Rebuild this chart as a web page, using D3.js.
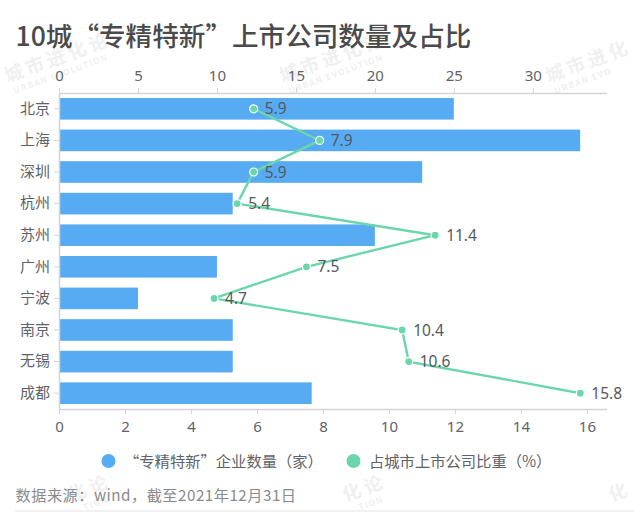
<!DOCTYPE html>
<html>
<head>
<meta charset="utf-8">
<script src="https://cdn.jsdelivr.net/npm/d3@7"></script>
<style>
html, body { margin:0; padding:0; background:#fff; }
text { font-family:"Noto Sans CJK SC","Noto Sans",sans-serif; }
</style>
</head>
<body>
<div id="my_viz"></div>
<script>
const cities = ["北京","上海","深圳","杭州","苏州","广州","宁波","南京","无锡","成都"]
const company_counts = [25,33,23,11,20,10,5,11,11,16]
const share_values = [5.9,7.9,5.9,5.4,11.4,7.5,4.7,10.4,10.6,15.8]
const top_ticks = [0,5,10,15,20,25,30]
const bottom_ticks = [0,2,4,6,8,10,12,14,16]
const legend_labels = ["“专精特新”企业数量（家）","占城市上市公司比重（%）"]

// only the part of each watermark that shows inside the picture
const watermarks = [
	{cx:55, cy:58, cn:"城市进化论", cn_from:0, en:"URBAN EVOLUTION", en_from:0},
	{cx:330, cy:58, cn:"城市进化论", cn_from:0, en:"URBAN EVOLUTION", en_from:0},
	{cx:596, cy:58, cn:"城市进化", cn_from:0, en:"URBAN EVO", en_from:0},
	{cx:55, cy:500, cn:"化论", cn_from:3, en:"TION", en_from:11},
	{cx:330, cy:500, cn:"化论", cn_from:3, en:"TION", en_from:11},
	{cx:596, cy:500, cn:"化", cn_from:3, en:"", en_from:11}
]

const width = 634
const height = 512
const margin = {top:93, right:27.3, bottom:103, left:59}
const bounded = {
	width : width - margin.left - margin.right,
	height : height - margin.top - margin.bottom
}
const text_color = "#5f6368"
const axis_color = "#d4d4d4"
const bar_color = "#56abf2"
const line_color = "#6bd6ab"
const mark_color = "#f0f0f0"

var svg = d3.select("#my_viz")
.append("svg")
.attr("width", width)
.attr("height", height)
.style("display", "block")

// Watermarks sit behind everything
var marks = svg.selectAll(".watermark")
.data(watermarks)
.enter()
.append("g")
.attr("class", "watermark")
.attr("transform", d => "translate(" + d.cx + "," + d.cy + ") rotate(-20)")
marks.append("text")
.attr("x", d => -53 + d.cn_from * 22.3)
.attr("y", 7)
.attr("fill", mark_color)
.style("font-size", "18.5px")
.style("font-weight", 700)
.style("letter-spacing", "3.8px")
.text(d => d.cn)
marks.append("text")
.attr("x", d => -50 + d.en_from * 6.75)
.attr("y", 20)
.attr("fill", mark_color)
.style("font-size", "8.5px")
.style("font-weight", 700)
.style("letter-spacing", "1.3px")
.text(d => d.en)

// Title
svg.append("text")
.attr("x", 15.5)
.attr("y", 46)
.attr("fill", "#4a4a4a")
.style("font-size", "26.6px")
.style("font-weight", 500)
.text("10城“专精特新”上市公司数量及占比")

var group = svg.append("g")
.attr("transform", "translate(" + margin.left + "," + margin.top + ")")

// Scales
var xCount = d3.scaleLinear()
.domain([0, 34.68])
.range([0, bounded.width])
var xShare = d3.scaleLinear()
.domain([0, 16.6])
.range([0, bounded.width])
var yCity = d3.scaleBand()
.domain(cities)
.range([0, bounded.height])
.paddingInner(0.316)
.paddingOuter(0.158)

// Bars
group.selectAll(".bar")
.data(cities)
.enter()
.append("rect")
.attr("class", "bar")
.attr("x", 0)
.attr("y", d => yCity(d))
.attr("width", (d,i) => xCount(company_counts[i]))
.attr("height", yCity.bandwidth())
.attr("fill", bar_color)

// Axes
function styleAxis(g){
	g.selectAll(".domain").attr("stroke", axis_color).attr("stroke-width", 1.5)
	g.selectAll(".tick line").attr("stroke", axis_color).attr("stroke-width", 1)
	g.selectAll(".tick text").attr("fill", text_color)
		.style("font-family", "'Noto Sans','Noto Sans CJK SC',sans-serif")
		.style("font-size", "15px")
}
group.append("g")
.attr("id", "X-axis-top")
.call(d3.axisTop(xCount).tickValues(top_ticks).tickSize(5).tickPadding(7).tickSizeOuter(0))
.call(styleAxis)
group.append("g")
.attr("id", "X-axis-bottom")
.attr("transform", "translate(0," + bounded.height + ")")
.call(d3.axisBottom(xShare).tickValues(bottom_ticks).tickSize(5).tickPadding(7).tickSizeOuter(0))
.call(styleAxis)
group.append("g")
.attr("id", "Y-axis")
.call(d3.axisLeft(yCity).tickSize(5).tickPadding(4).tickSizeOuter(0))
.call(styleAxis)
group.selectAll("#Y-axis .tick text").style("font-family", "'Noto Sans CJK SC',sans-serif")

// Share line
var line_gen = d3.line()
.x((d,i) => xShare(d))
.y((d,i) => yCity(cities[i]) + yCity.bandwidth() / 2)
group.append("path")
.attr("d", line_gen(share_values))
.attr("fill", "none")
.attr("stroke", line_color)
.attr("stroke-width", 2.4)

group.selectAll(".point")
.data(share_values)
.enter()
.append("circle")
.attr("class", "point")
.attr("cx", d => xShare(d))
.attr("cy", (d,i) => yCity(cities[i]) + yCity.bandwidth() / 2)
.attr("r", 4)
.attr("fill", line_color)
.attr("stroke", "#fff")
.attr("stroke-width", 1.2)

group.selectAll(".point-label")
.data(share_values)
.enter()
.append("text")
.attr("class", "point-label")
.attr("x", d => xShare(d) + 11)
.attr("y", (d,i) => yCity(cities[i]) + yCity.bandwidth() / 2)
.attr("dy", "0.36em")
.attr("fill", "#55595e")
.style("font-family", "'Noto Sans',sans-serif")
.style("font-size", "15.5px")
.text(d => d.toFixed(1))

// Legend
const legend_x = [108.5, 353.5]
const legend_colors = [bar_color, line_color]
var legend = svg.selectAll(".legend")
.data(legend_labels)
.enter()
.append("g")
.attr("class", "legend")
.attr("transform", (d,i) => "translate(" + legend_x[i] + ",461)")
legend.append("circle")
.attr("r", 7)
.attr("fill", (d,i) => legend_colors[i])
legend.append("text")
.attr("x", 15.5)
.attr("dy", "0.36em")
.attr("fill", text_color)
.style("font-size", "15.3px")
.text(d => d)

// Source note
svg.append("text")
.attr("x", 15.5)
.attr("y", 501)
.attr("fill", "#8a8a8a")
.style("font-size", "15.2px")
.style("letter-spacing", "0.5px")
.text("数据来源：wind，截至2021年12月31日")

// Thin rule along the bottom edge of the picture
svg.append("line")
.attr("x1", 15)
.attr("x2", width)
.attr("y1", 511)
.attr("y2", 511)
.attr("stroke", "#e4e4e4")
</script>
</body>
</html>
